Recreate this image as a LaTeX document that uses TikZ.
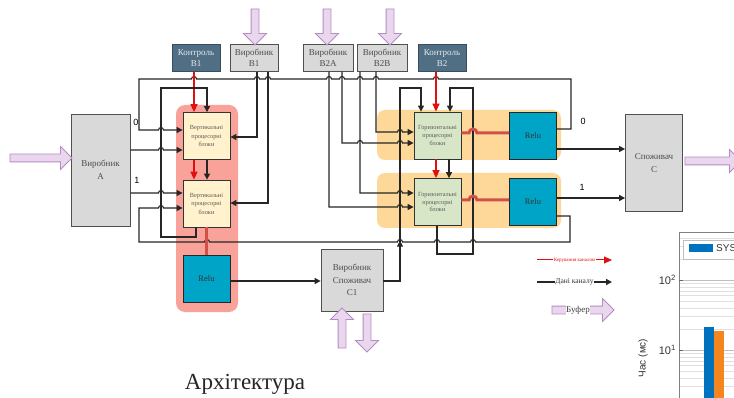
\documentclass[tikz,border=0pt]{standalone}
\usepackage{fontspec}
\setmainfont{Liberation Serif}
\newfontfamily\chartfont{Liberation Sans}
\usepackage{xcolor}
\usetikzlibrary{shapes.arrows,arrows.meta,decorations.markings,positioning}

\definecolor{boxgray}{HTML}{D9D9D9}
\definecolor{boxline}{HTML}{505050}
\definecolor{ctrlblue}{HTML}{516F84}
\definecolor{creamfill}{HTML}{FFF2CC}
\definecolor{greenfill}{HTML}{D8E6C8}
\definecolor{relufill}{HTML}{00A4C6}
\definecolor{salmon}{HTML}{F8A29A}
\definecolor{amber}{HTML}{FDD898}
\definecolor{bufferfill}{HTML}{EAD7EE}
\definecolor{bufferline}{HTML}{B48CC4}
\definecolor{ctrlred}{HTML}{E01010}
\definecolor{linkred}{HTML}{D2504A}
\definecolor{sysblue}{HTML}{0072BD}
\definecolor{sysorange}{HTML}{F5861F}

\begin{document}
\begin{tikzpicture}[x=1pt, y=-1pt,
    prodbox/.style={rectangle, draw=boxline, fill=boxgray, minimum width=48pt, minimum height=27pt, inner sep=0pt, align=center, font=\fontsize{9}{11.5}\selectfont, text=black!70},
    ctrlbox/.style={prodbox, draw=ctrlblue!70!black, fill=ctrlblue, text=white!85!ctrlblue},
    bigbox/.style={rectangle, draw=boxline, fill=boxgray, thick, inner sep=0pt, align=center, font=\fontsize{9}{12.5}\selectfont, text=black!70},
    vproc/.style={rectangle, draw=black!80, fill=creamfill, thick, minimum width=47pt, minimum height=47pt, inner sep=0pt, align=center, font=\fontsize{6.3}{8.5}\selectfont, text=black!65},
    hproc/.style={vproc, fill=greenfill, font=\fontsize{6.3}{7.8}\selectfont},
    relu/.style={rectangle, draw=black!85, fill=relufill, thick, minimum width=47pt, minimum height=47pt, inner sep=0pt, font=\fontsize{8.5}{10}\selectfont, text=black!80},
    buffer/.style={single arrow, draw=bufferline, fill=bufferfill, thick, inner xsep=0pt, inner ysep=3.5pt, single arrow head extend=7.5pt, minimum width=22pt},
    data/.style={draw=black!85, line width=1.1pt, -{Triangle[length=6pt,width=6pt]}},
    ctrl/.style={draw=ctrlred, line width=1.5pt, -{Triangle[length=8pt,width=7pt]}},
    link/.style={draw=linkred, line width=3pt},
    portlbl/.style={font=\chartfont\fontsize{9}{10}\selectfont, inner sep=0pt},
    midarrow/.style={postaction={decorate, decoration={markings, mark=at position #1 with {\arrow{Triangle[length=6pt,width=6pt]}}}}}
]
\useasboundingbox (0,0) rectangle (734,398);
\fill[white] (0,0) rectangle (734,398);

% Backgrounds of the processing groups
\fill[salmon, rounded corners=9pt] (176,105) rectangle (238,312);
\fill[amber, rounded corners=8pt] (377,110) rectangle (561,160);
\fill[amber, rounded corners=8pt] (377,173) rectangle (561,228);

% Producers and controls on top
\node[ctrlbox] (ctlb1) at (196,58) {Контроль\\B1};
\node[prodbox] (prb1) at (254,58) {Виробник\\B1};
\node[prodbox, minimum width=50pt] (prb2a) at (328,58) {Виробник\\B2A};
\node[prodbox, minimum width=50pt] (prb2b) at (382,58) {Виробник\\B2B};
\node[ctrlbox] (ctlb2) at (442,58) {Контроль\\B2};

% Main blocks
\node[bigbox, minimum width=59pt, minimum height=112pt] (prA) at (100.5,170) {Виробник\\A};
\node[vproc] (vb0) at (206.5,136) {Вертикальні\\процесорні\\блоки};
\node[vproc] (vb1) at (206.5,203.5) {Вертикальні\\процесорні\\блоки};
\node[relu] (rlv) at (206.5,278.5) {Relu};
\node[hproc] (hb0) at (437.5,135.5) {Горизонтальні\\процесорні\\блоки};
\node[hproc] (hb1) at (437.5,202) {Горизонтальні\\процесорні\\блоки};
\node[relu] (rh0) at (533,135.5) {Relu};
\node[relu] (rh1) at (533,202) {Relu};
\node[bigbox, minimum width=57pt, minimum height=97pt] (consC) at (654,163) {Споживач\\C};
\node[bigbox, minimum width=62pt, minimum height=62pt] (prC1) at (352,280) {Виробник\\Споживач\\C1};

% Buffers
\node[buffer, minimum height=62pt] (bufA) at (39,158) {};
\node[buffer, minimum height=56pt] (bufC) at (711,161) {};
\node[buffer, minimum height=36pt, rotate=-90] (bufB1) at (255,25) {};
\node[buffer, minimum height=36pt, rotate=-90] (bufB2A) at (327,25) {};
\node[buffer, minimum height=36pt, rotate=-90] (bufB2B) at (390,25) {};
\node[buffer, minimum height=40pt, rotate=90] (bufC1in) at (342,330) {};
\node[buffer, minimum height=38pt, rotate=-90] (bufC1out) at (367,331) {};

% Feedback from the Relu outputs
\draw[data] (rh0.east |- 0,129) -- (571,129) -- (571,79)
    \foreach \hx in {436,376,360,342,329,268,257,194} {-- (\hx+2.5,79) arc[start angle=0, end angle=180, radius=2.5pt]}
    -- (139,79) -- (139,130) -- (158.5,130) arc[start angle=180, end angle=0, radius=2.5pt] -- (vb0.west |- 0,130);
\draw[data] (rh1.east |- 0,216) -- (570,216) -- (570,242)
    \foreach \hx in {473,437,400,207} {-- (\hx+2.5,242) arc[start angle=0, end angle=180, radius=2.5pt]}
    -- (139,242) -- (139,208) -- (158.5,208) arc[start angle=180, end angle=0, radius=2.5pt] -- (vb1.west |- 0,208);

% Producer A
\draw[data] (prA.east |- 0,150) -- (158.5,150) arc[start angle=180, end angle=0, radius=2.5pt] -- (vb0.west |- 0,150);
\draw[data] (prA.east |- 0,193) -- (158.5,193) arc[start angle=180, end angle=0, radius=2.5pt] -- (vb1.west |- 0,193);
\node[portlbl] (lblA0) at (136,122) {0};
\node[portlbl] (lblA1) at (137,180) {1};

% Vertical group
\draw[data] (257,0 |- prb1.south) -- (257,137) -- (vb0.east |- 0,137);
\draw[data] (268,0 |- prb1.south) -- (268,203) -- (vb1.east |- 0,203);
\draw[ctrl] (194,0 |- ctlb1.south) -- (194,0 |- vb0.north);
\draw[ctrl] (194,0 |- vb0.south) -- (194,0 |- vb1.north);
\draw[data] (207,0 |- vb0.south) -- (207,0 |- vb1.north);
\draw[data] (196,0 |- vb1.south) -- (196,237) -- (161,237) -- (161,88) -- (207,88) -- (207,0 |- vb0.north);
\draw[link] (vb1.south) -- (rlv.north);
\draw[data] (rlv.east |- 0,281) -- (prC1.west |- 0,281);
\draw[data, midarrow=57pt] (prC1.east |- 0,281) -- (400,281) -- (400,88) -- (421,88) -- (421,0 |- hb0.north);

% Horizontal group
\draw[data] (329,0 |- prb2a.south) -- (329,207) -- (397.5,207) arc[start angle=180, end angle=0, radius=2.5pt] -- (hb1.west |- 0,207);
\draw[data] (342,0 |- prb2a.south) -- (342,143) -- (357.5,143) arc[start angle=180, end angle=0, radius=2.5pt]
    -- (397.5,143) arc[start angle=180, end angle=0, radius=2.5pt] -- (hb0.west |- 0,143);
\draw[data] (360,0 |- prb2b.south) -- (360,193) -- (397.5,193) arc[start angle=180, end angle=0, radius=2.5pt] -- (hb1.west |- 0,193);
\draw[data] (376,0 |- prb2b.south) -- (376,132) -- (397.5,132) arc[start angle=180, end angle=0, radius=2.5pt] -- (hb0.west |- 0,132);
\draw[ctrl] (436,0 |- ctlb2.south) -- (436,0 |- hb0.north);
\draw[ctrl] (436,0 |- hb0.south) -- (436,0 |- hb1.north);
\draw[data] (449,0 |- hb0.south) -- (449,0 |- hb1.north);
\draw[data] (437,0 |- hb1.south) -- (437,254) -- (473,254) -- (473,88) -- (450,88) -- (450,0 |- hb0.north);
\draw[link] (hb0.east |- 0,133) -- (469,133) arc[start angle=180, end angle=0, radius=4pt] -- (rh0.west |- 0,133);
\draw[link] (hb1.east |- 0,200) -- (469,200) arc[start angle=180, end angle=0, radius=4pt] -- (rh1.west |- 0,200);
\draw[data] (rh0.east |- 0,149) -- (consC.west |- 0,149);
\draw[data] (rh1.east |- 0,198) -- (consC.west |- 0,198);
\node[portlbl] (lblC0) at (583,121) {0};
\node[portlbl] (lblC1) at (582,187) {1};

% Legend
\coordinate (lgc0) at (537,260);
\coordinate (lgc1) at (612,260);
\coordinate (lgd0) at (537,282);
\coordinate (lgd1) at (612,282);
\draw[ctrl, line width=1pt] (lgc0) -- node[fill=white, text=ctrlred, font=\fontsize{5}{6}\selectfont, inner sep=0.6pt] (lgcText) {Керування каналом} (lgc1);
\draw[data, line width=1.8pt] (lgd0) -- node[fill=white, text=black!80, font=\fontsize{7.5}{9}\selectfont, inner sep=0.8pt] (lgdText) {Дані каналу} (lgd1);
\node[buffer, minimum height=62pt] (bufLeg) at (581,310) {};
\node[fill=white, font=\fontsize{9}{10}\selectfont, text=black!75, inner sep=0.5pt] (bufLegText) at (578,310) {Буфер};

% Chart fragment
\fill[white] (679,232) rectangle (740,400);
\foreach \k in {2,...,9} {
  \draw[black!12, line width=0.5pt] (679,{420-70*log10(\k)}) -- (740,{420-70*log10(\k)});
  \draw[black!12, line width=0.5pt] (679,{350-70*log10(\k)}) -- (740,{350-70*log10(\k)});
}
\foreach \k in {2,3,4} {
  \draw[black!12, line width=0.5pt] (679,{280-70*log10(\k)}) -- (740,{280-70*log10(\k)});
}
\draw[black!25, line width=0.6pt] (679,280) -- (740,280);
\draw[black!25, line width=0.6pt] (679,350) -- (740,350);
\draw[black!50, line width=0.7pt] (679,400) -- (679,232) -- (740,232);
\draw[black!60] (679,280) -- (683,280);
\draw[black!60] (679,350) -- (683,350);
\fill[sysblue] (704,327) rectangle (714,400);
\fill[sysorange] (714,331) rectangle (724,400);
\draw[black!25, fill=white] (683,240) rectangle (745,259);
\fill[sysblue] (689,244) rectangle (713,252);
\node[anchor=west, font=\chartfont\fontsize{10}{11}\selectfont, text=black!80, inner sep=0pt] (sysLbl) at (716,248) {SYS};
\node[anchor=east, font=\chartfont\fontsize{11}{12}\selectfont, text=black!80, inner sep=0pt] (tick2) at (676,280) {10\textsuperscript{2}};
\node[anchor=east, font=\chartfont\fontsize{11}{12}\selectfont, text=black!80, inner sep=0pt] (tick1) at (676,350) {10\textsuperscript{1}};
\node[rotate=90, font=\chartfont\fontsize{10}{11}\selectfont, text=black!80, inner sep=0pt] (ylbl) at (643,358) {Час (мс)};

% Caption
\node[font=\fontsize{23}{26}\selectfont, text=black!85] (title) at (245,384) {Архітектура};
\end{tikzpicture}
\end{document}
